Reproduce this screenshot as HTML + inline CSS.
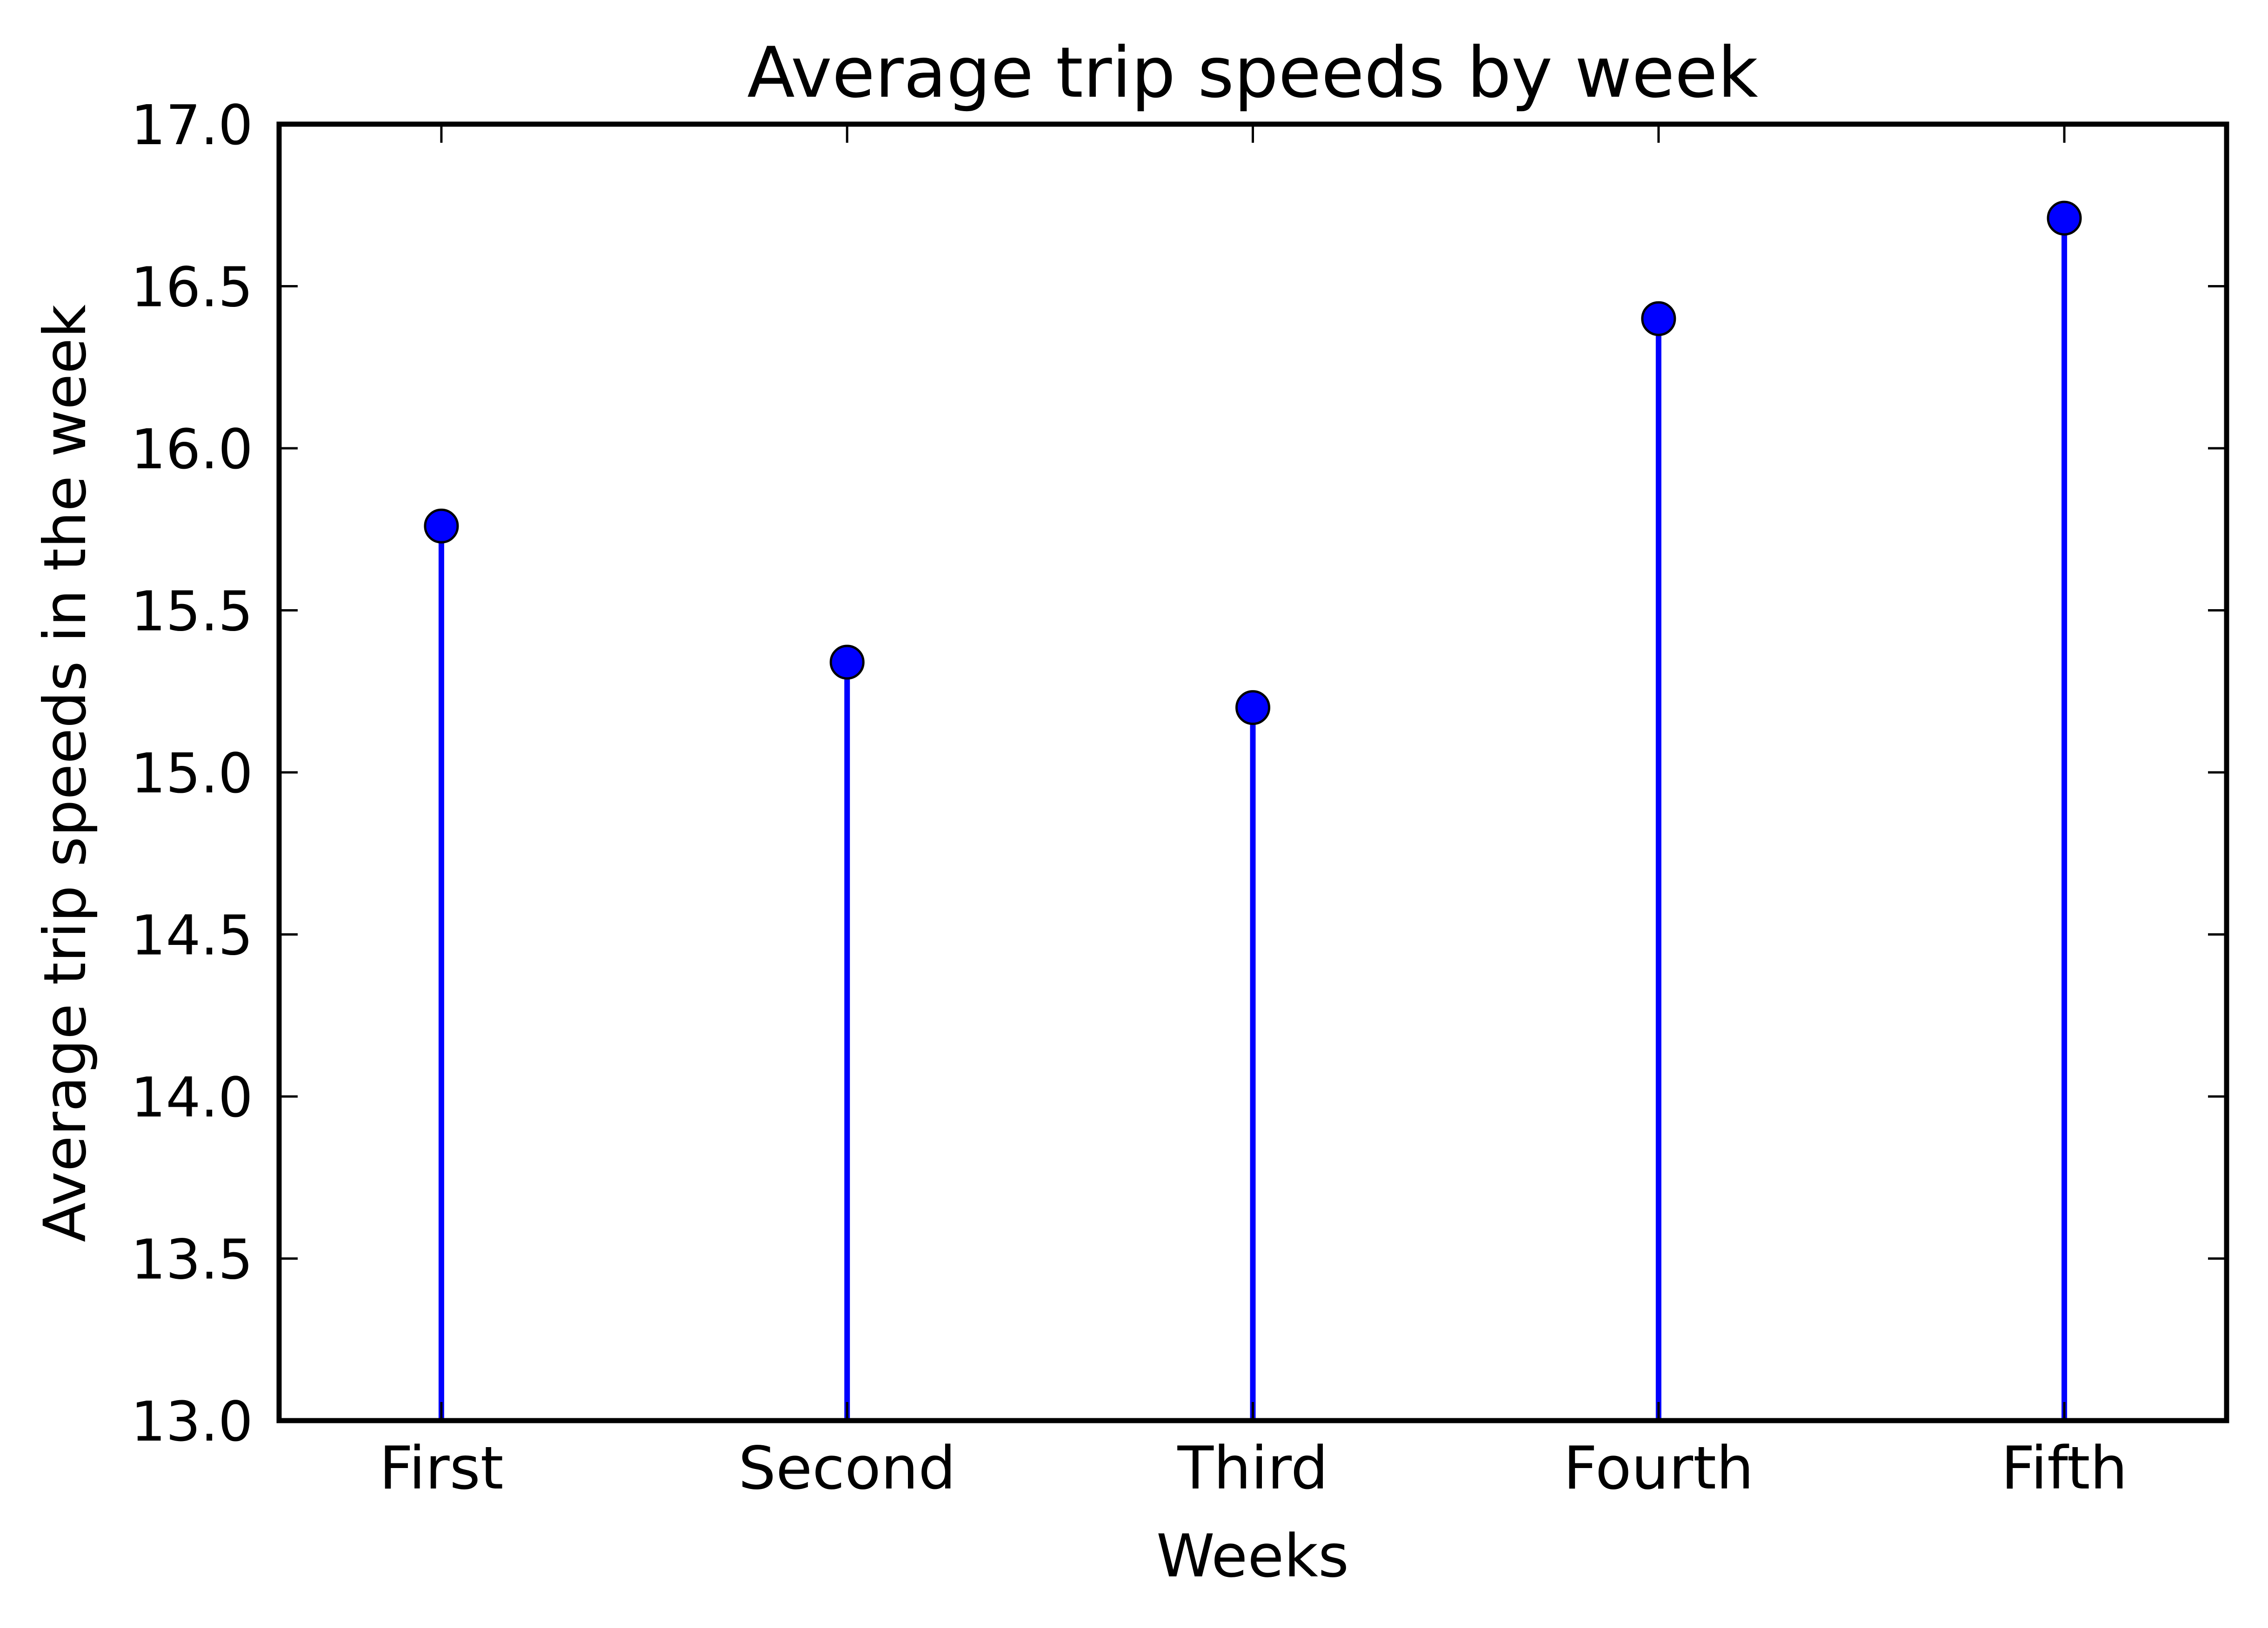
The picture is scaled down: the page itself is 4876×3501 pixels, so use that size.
<!DOCTYPE html>
<html><head><meta charset="utf-8"><style>
html,body{margin:0;padding:0;background:#fff;}
svg{display:block;font-family:"DejaVu Sans","Liberation Sans",sans-serif;}
</style></head><body>
<svg id="chart" width="4876" height="3501" viewBox="0 0 4876 3501" xmlns="http://www.w3.org/2000/svg">
<rect width="4876" height="3501" fill="#fff"/>
<g id="plot"></g>
<text x="2693" y="208" font-size="150" text-anchor="middle">Average trip speeds by week</text>
<text x="2693" y="3390" font-size="127" text-anchor="middle">Weeks</text>
<text transform="translate(183,1663) rotate(-90)" font-size="125" text-anchor="middle">Average trip speeds in the week</text>
</svg>
<script>
const categories = ["First","Second","Third","Fourth","Fifth"];
const speeds = [15.76, 15.34, 15.20, 16.40, 16.71];
const yTicks = [13.0, 13.5, 14.0, 14.5, 15.0, 15.5, 16.0, 16.5, 17.0];
const yTickLabels = ["13.0","13.5","14.0","14.5","15.0","15.5","16.0","16.5","17.0"];

const L=600, R=4787, T=267, B=3055;
const yMin=13, yMax=17, xMin=-0.4, xMax=categories.length-1+0.4;
const xs = i => L + (i - xMin) / (xMax - xMin) * (R - L);
const ys = v => B - (v - yMin) / (yMax - yMin) * (B - T);
const NS="http://www.w3.org/2000/svg";
const g=document.getElementById('plot');
function mk(tag, attrs){const e=document.createElementNS(NS,tag);for(const k in attrs)e.setAttribute(k,attrs[k]);g.appendChild(e);return e;}

categories.forEach((c,i)=>{
  const x=xs(i);
  const stem=mk('line',{x1:x,x2:x,y1:ys(speeds[i]),y2:B,stroke:'#0000ff','stroke-width':12});
  
  
});
categories.forEach((c,i)=>{
  const dot=mk('circle',{cx:xs(i),cy:ys(speeds[i]),r:35,fill:'#0000ff',stroke:'#000','stroke-width':5});
  
  
  const t1=mk('line',{x1:xs(i),x2:xs(i),y1:B,y2:B-40,stroke:'#000','stroke-width':5});
  
  
  const t2=mk('line',{x1:xs(i),x2:xs(i),y1:T,y2:T+40,stroke:'#000','stroke-width':5});
  
  
  const lb=mk('text',{x:xs(i),y:3201,'font-size':127,'text-anchor':'middle'});
  lb.textContent=c;
  
  
});
yTicks.forEach((v,i)=>{
  const y=ys(v);
  const a=mk('line',{x1:L,x2:L+40,y1:y,y2:y,stroke:'#000','stroke-width':5});
  
  
  const b=mk('line',{x1:R,x2:R-40,y1:y,y2:y,stroke:'#000','stroke-width':5});
  
  
  const t=mk('text',{x:544,y:y+43,'font-size':118,'text-anchor':'end'});
  t.textContent=yTickLabels[i];
  
  
});
const frame=mk('rect',{x:L,y:T,width:R-L,height:B-T,fill:'none',stroke:'#000','stroke-width':11});


</script>
</body></html>
